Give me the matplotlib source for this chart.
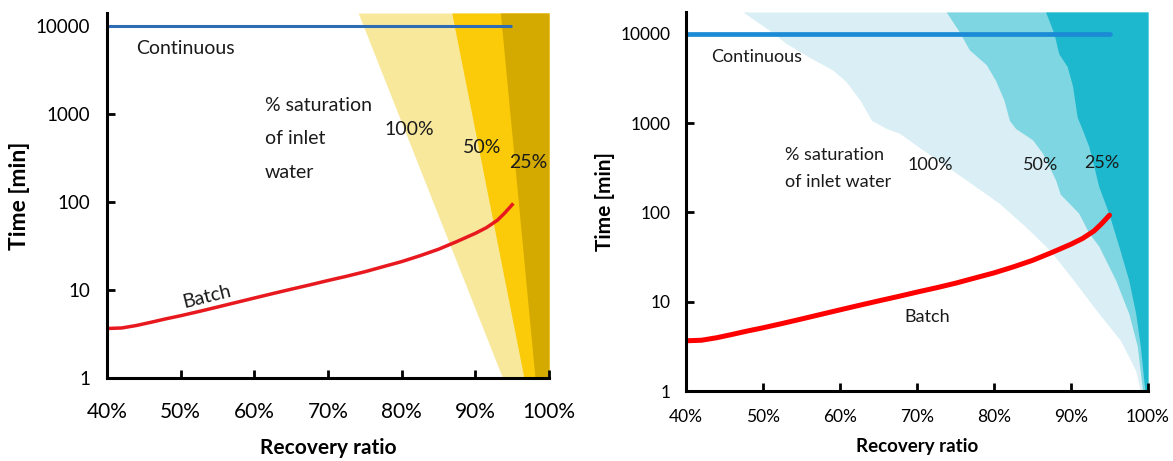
import numpy as np
import matplotlib
matplotlib.use("Agg")
import matplotlib.pyplot as plt

plt.rcParams['font.family'] = ['Lato', 'DejaVu Sans']
plt.rcParams['text.color'] = '#1a1a1a'

# shared axis data (recovery ratio in %, time in minutes)
x_ticks = [40, 50, 60, 70, 80, 90, 100]
x_labels = ['40%', '50%', '60%', '70%', '80%', '90%', '100%']
y_ticks = [1, 10, 100, 1000, 10000]
y_labels = ['1', '10', '100', '1000', '10000']

batch_x = [40, 42, 44, 46, 48, 50, 52.5, 55, 57.5, 60, 62.5, 65, 67.5, 70,
           72.5, 75, 77.5, 80, 82.5, 85, 87.5, 90, 91.5, 93, 94, 95]
batch_t = [3.65, 3.7, 3.95, 4.3, 4.7, 5.1, 5.7, 6.4, 7.2, 8.1, 9.1, 10.2, 11.4, 12.8,
           14.3, 16.1, 18.4, 21.0, 24.5, 29.0, 35.5, 44.0, 51.0, 62.0, 75.0, 93.0]
cont_x = [40, 95]
cont_t = [10000, 10000]

# left panel: saturation bands (left edge of each band, top -> bottom)
yel_t = [14000, 1]
yel_100 = [74.1, 93.7]
yel_50 = [86.8, 96.6]
yel_25 = [93.4, 98.1]

# right panel: saturation bands
cyan_100_x = [47.4, 51.1, 53.0, 56.1, 59.1, 60.8, 62.6, 64.1, 66.0, 67.7,
              72.0, 76.4, 80.7, 84.1, 87.2, 90.2, 93.6, 96.4, 98.4, 99.0]
cyan_100_t = [17500, 10500, 7800, 5400, 3900, 2900, 1800, 1070, 870, 770,
              420, 230, 126, 69, 38, 18, 7.4, 3.7, 1.7, 1]
cyan_50_x = [73.8, 75.5, 76.8, 79.0, 80.2, 81.3, 82.0, 82.8, 85.0, 86.3,
             87.2, 88.0, 88.6, 91.0, 92.3, 93.6, 95.8, 97.5, 98.6, 99.3]
cyan_50_t = [17500, 10500, 6600, 4500, 3000, 1800, 1070, 870, 650, 460,
             320, 230, 160, 98, 59, 42, 17.4, 7.4, 3.2, 1]
cyan_25_x = [86.7, 87.8, 88.4, 89.5, 90.2, 90.8, 91.5, 92.3, 93.0, 93.6,
             94.9, 96.2, 97.5, 98.4, 99.0, 99.6]
cyan_25_t = [17500, 10000, 6000, 4300, 2600, 1170, 830, 550, 320, 195,
             98, 42, 17.4, 7.4, 3.2, 1]


def style_axes(ax, ytop, ysize, xsize, lblsize, ylblsize, xpad, ypad, xlpad):
    ax.set_yscale('log')
    ax.set_xlim(40, 100)
    ax.set_ylim(1, ytop)
    ax.set_xticks(x_ticks)
    ax.set_xticklabels(x_labels, fontsize=xsize)
    ax.set_yticks(y_ticks)
    ax.set_yticklabels(y_labels, fontsize=ysize)
    ax.minorticks_off()
    ax.tick_params(direction='in', length=6, width=2, color='black')
    ax.tick_params(axis='x', pad=xpad)
    ax.tick_params(axis='y', pad=ypad)
    for s in ['top', 'right']:
        ax.spines[s].set_visible(False)
    for s in ['left', 'bottom']:
        ax.spines[s].set_linewidth(2.2)
    ax.set_xlabel('Recovery ratio', fontsize=lblsize, fontweight='bold', labelpad=xlpad)
    ax.set_ylabel('Time [min]', fontsize=ylblsize, fontweight='bold')


fig = plt.figure(figsize=(11.73, 4.61), dpi=100)
ax1 = fig.add_axes([107/1173, 83/461, 442/1173, 365/461])
ax2 = fig.add_axes([686/1173, 70/461, 462/1173, 379/461])

# ---- left panel
ax1.fill_betweenx(yel_t, yel_100, 100, color='#f8e89c', lw=0)
ax1.fill_betweenx(yel_t, yel_50, 100, color='#fbcb0a', lw=0)
ax1.fill_betweenx(yel_t, yel_25, 100, color='#d4aa00', lw=0)
ax1.plot(cont_x, cont_t, color='#2e6db4', lw=2.2, solid_capstyle='butt')
ax1.plot(batch_x, batch_t, color='#e8191e', lw=2.5, solid_joinstyle='round')

ax1.text(43.9, 5600, 'Continuous', fontsize=14, va='center')
ax1.text(61.4, 1230, '% saturation', fontsize=14, va='center')
ax1.text(61.4, 525, 'of inlet', fontsize=14, va='center')
ax1.text(61.4, 214, 'water', fontsize=14, va='center')
ax1.text(77.6, 660, '100%', fontsize=14, va='center')
ax1.text(88.3, 410, '50%', fontsize=14, va='center')
ax1.text(94.6, 277, '25%', fontsize=14, va='center')
ax1.text(53.5, 8.3, 'Batch', fontsize=14, va='center', ha='center', rotation=14)

style_axes(ax1, 14000, 13.5, 15, 15, 16.5, 17, 12, 12)

# ---- right panel
ax2.fill_betweenx(cyan_100_t, cyan_100_x, 100, color='#d9eff5', lw=0)
ax2.fill_betweenx(cyan_50_t, cyan_50_x, 100, color='#7dd6e1', lw=0)
ax2.fill_betweenx(cyan_25_t, cyan_25_x, 100, color='#1db8cd', lw=0)
ax2.plot(cont_x, cont_t, color='#1b8bd6', lw=3.4, solid_capstyle='round')
ax2.plot(batch_x, batch_t, color='#ff0000', lw=3.6, solid_capstyle='round',
         solid_joinstyle='round')

ax2.text(43.3, 5530, 'Continuous', fontsize=13, va='center')
ax2.text(52.8, 437, '% saturation', fontsize=13, va='center')
ax2.text(52.8, 219, 'of inlet water', fontsize=13, va='center')
ax2.text(68.8, 339, '100%', fontsize=13, va='center')
ax2.text(83.7, 339, '50%', fontsize=13, va='center')
ax2.text(91.7, 355, '25%', fontsize=13, va='center')
ax2.text(68.4, 6.8, 'Batch', fontsize=13, va='center')

style_axes(ax2, 17500, 12.5, 12.5, 13.5, 15, 13, 11, 9)

fig.savefig('out.png', dpi=100)
